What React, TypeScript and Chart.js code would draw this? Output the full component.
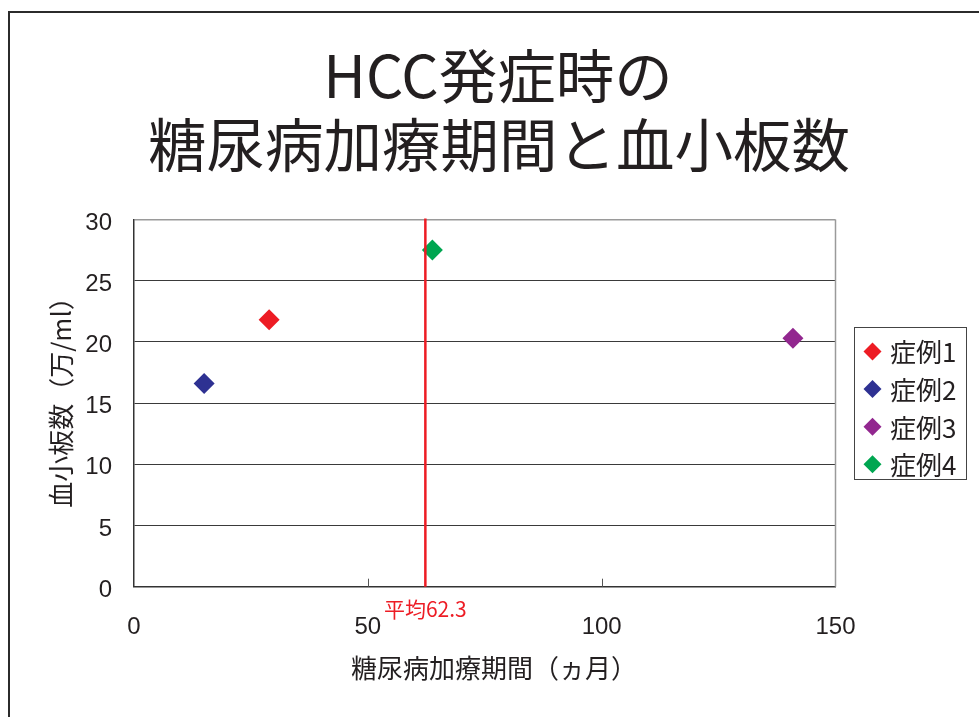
import React, { useEffect, useRef } from "react";
import { Chart, registerables } from "chart.js";

Chart.register(...registerables);

// 症例ごとの糖尿病加療期間（ヵ月）と血小板数（万/ml）
const caseLabels = ["症例1", "症例2", "症例3", "症例4"];
const treatmentMonths = [28.9, 15.0, 140.9, 63.8];
const plateletCounts = [21.8, 16.6, 20.3, 27.5];
const caseColors = ["#ED1C24", "#2E3192", "#92278F", "#00A651"];

const meanMonths = 62.3;
const meanLabel = "平均62.3";

const titleLines = ["HCC発症時の", "糖尿病加療期間と血小板数"];
const xAxisTitle = "糖尿病加療期間（ヵ月）";
const yAxisTitle = "血小板数（万/ml）";

const xRange = { min: 0, max: 150, step: 50 };
const yRange = { min: 0, max: 30, step: 5 };

const JP = '"Noto Sans CJK JP", "Noto Sans", sans-serif';
const LATIN = '"Liberation Sans", Arial, sans-serif';
const INK = "#231F20";

const decorPlugin = {
  id: "decor",
  afterDatasetsDraw(chart: any) {
    const { ctx, chartArea: a, scales } = chart;
    const xs = scales.x;
    ctx.save();

    // 平均線
    const mx = xs.getPixelForValue(meanMonths);
    ctx.strokeStyle = "#ED1C24";
    ctx.lineWidth = 2.5;
    ctx.beginPath();
    ctx.moveTo(mx, a.top - 1);
    ctx.lineTo(mx, a.bottom);
    ctx.stroke();

    // 右枠線
    ctx.strokeStyle = "#9a9a9a";
    ctx.lineWidth = 1.5;
    ctx.beginPath();
    ctx.moveTo(a.right, a.top);
    ctx.lineTo(a.right, a.bottom);
    ctx.stroke();

    // x 軸の内向き目盛り
    ctx.strokeStyle = "#555";
    ctx.lineWidth = 1;
    for (let v = xRange.min + xRange.step; v < xRange.max; v += xRange.step) {
      const px = Math.round(xs.getPixelForValue(v)) + 0.5;
      ctx.beginPath();
      ctx.moveTo(px, a.bottom);
      ctx.lineTo(px, a.bottom - 8);
      ctx.stroke();
    }

    // 平均値ラベル
    ctx.fillStyle = "#ED1C24";
    ctx.font = `21px ${JP}`;
    ctx.textAlign = "center";
    ctx.textBaseline = "middle";
    ctx.fillText(meanLabel, mx, a.bottom + 22);

    ctx.restore();
  },
  afterDraw(chart: any) {
    const { ctx, data } = chart;
    ctx.save();

    // 外枠
    ctx.strokeStyle = "#2b2b2b";
    ctx.lineWidth = 2;
    ctx.beginPath();
    ctx.moveTo(9, chart.height);
    ctx.lineTo(9, 12);
    ctx.lineTo(chart.width, 12);
    ctx.stroke();

    // タイトル
    ctx.fillStyle = INK;
    ctx.textAlign = "center";
    ctx.textBaseline = "middle";
    ctx.font = `58.5px ${JP}`;
    ctx.fillText(titleLines[0], 498, 76);
    ctx.fillText(titleLines[1], 499, 145);

    // 軸タイトル
    ctx.font = `26px ${JP}`;
    ctx.fillText(xAxisTitle, 494, 668);
    ctx.save();
    ctx.translate(61, 396);
    ctx.rotate(-Math.PI / 2);
    ctx.fillText(yAxisTitle, 0, 0);
    ctx.restore();

    // 凡例
    const box = { x: 854.5, y: 327.5, w: 112, h: 152 };
    ctx.strokeStyle = "#444";
    ctx.lineWidth = 1;
    ctx.strokeRect(box.x, box.y, box.w, box.h);
    ctx.font = `26px ${JP}`;
    ctx.textAlign = "left";
    data.datasets.forEach((ds: any, i: number) => {
      const cy = 351.5 + i * 37.6;
      const cx = 872.5;
      const r = 9;
      ctx.fillStyle = ds.backgroundColor;
      ctx.beginPath();
      ctx.moveTo(cx - r, cy);
      ctx.lineTo(cx, cy - r);
      ctx.lineTo(cx + r, cy);
      ctx.lineTo(cx, cy + r);
      ctx.closePath();
      ctx.fill();
      ctx.fillStyle = INK;
      ctx.fillText(ds.label, 890, cy + 1);
    });

    ctx.restore();
  },
};

export default function App() {
  const ref = useRef<HTMLCanvasElement | null>(null);

  useEffect(() => {
    if (!ref.current) return;
    const chart = new Chart(ref.current, {
      type: "scatter",
      data: {
        datasets: caseLabels.map((label, i) => ({
          label,
          data: [{ x: treatmentMonths[i], y: plateletCounts[i] }],
          backgroundColor: caseColors[i],
          borderColor: caseColors[i],
          pointStyle: "rectRot",
          pointRadius: 10.5,
          pointBorderWidth: 0,
        })),
      },
      options: {
        animation: false,
        responsive: false,
        devicePixelRatio: 1,
        layout: { padding: { left: 0, top: 219.5, right: 143.5, bottom: 0 } },
        plugins: {
          legend: { display: false },
          title: { display: false },
          tooltip: { enabled: false },
        },
        scales: {
          x: {
            type: "linear",
            min: xRange.min,
            max: xRange.max,
            afterFit(scale: any) {
              scale.height = 130.3;
            },
            ticks: {
              stepSize: xRange.step,
              color: INK,
              font: { family: LATIN, size: 24 },
              padding: 26,
            },
            grid: { display: false, drawTicks: false },
            border: { display: true, color: "#333", width: 1.5 },
          },
          y: {
            type: "linear",
            min: yRange.min,
            max: yRange.max,
            afterFit(scale: any) {
              scale.width = 134;
            },
            ticks: {
              stepSize: yRange.step,
              color: INK,
              font: { family: LATIN, size: 24 },
              padding: 22,
              labelOffset: 3.5,
            },
            grid: {
              drawTicks: false,
              color: (c: any) => (c.tick && c.tick.value === yRange.max ? "#9a9a9a" : "#3a3a3a"),
              lineWidth: (c: any) => (c.tick && c.tick.value === yRange.max ? 1.5 : 1),
            },
            border: { display: true, color: "#333", width: 1.5 },
          },
        },
      },
      plugins: [decorPlugin],
    });
    return () => chart.destroy();
  }, []);

  return (
    <canvas
      ref={ref}
      width={979}
      height={717}
      style={{ position: "fixed", left: 0, top: 0, width: 979, height: 717, background: "#fff" }}
    />
  );
}
